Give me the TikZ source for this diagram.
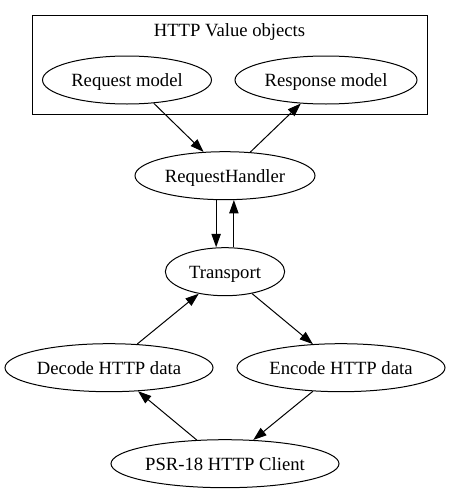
\documentclass[tikz,border=0pt]{standalone}
\usepackage{fontspec}
\setmainfont{Liberation Serif}
\usetikzlibrary{shapes.geometric,arrows.meta}
\begin{document}
\begin{tikzpicture}[x=0.75pt,y=-0.75pt,
  gn/.style={draw,ellipse,line width=0.75pt,minimum height=36pt,inner xsep=-4pt,inner ysep=0pt,
    text height=10pt,text depth=0pt,font=\fontsize{14pt}{16pt}\selectfont},
  cluster/.style={draw,rectangle,line width=0.75pt,inner sep=0pt},
  title/.style={anchor=base,inner sep=0pt,font=\fontsize{14pt}{16pt}\selectfont},
  edge/.style={draw,line width=0.75pt,-{Triangle[length=10pt,width=7pt]}}]
\useasboundingbox (0,0) rectangle (450,493);
\node[cluster,minimum width=296.25pt,minimum height=74.25pt] (cl) at (229.5,64.5) {};
\node[title] (cltitle) at (229.5,36.7) {HTTP Value objects};
\node[gn,minimum width=126.75pt] (rm) at (127,80) {Request model};
\node[gn,minimum width=136.5pt] (rsp) at (326,80) {Response model};
\node[gn,minimum width=135pt] (rh) at (225,175.7) {RequestHandler};
\node[gn,minimum width=89.5pt] (tr) at (225,271.7) {Transport};
\node[gn,minimum width=156pt] (dec) at (109,367.7) {Decode HTTP data};
\node[gn,minimum width=156pt] (enc) at (341,367.7) {Encode HTTP data};
\node[gn,minimum width=171pt] (psr) at (225,463.7) {PSR-18 HTTP Client};
\draw[edge] (rm.-41.5) -- (rh.132.9);
\draw[edge] (rh.43.5) -- (rsp.-137.4);
\draw[edge] (rh.-110) -- (rh.-110 |- tr.north);
\draw[edge] (tr.north -| rh.-70) -- (rh.-70);
\draw[edge] (tr.-39.5) -- (enc.140);
\draw[edge] (dec.40) -- (tr.-140.5);
\draw[edge] (enc.-140.5) -- (psr.40);
\draw[edge] (psr.140) -- (dec.-39.5);
\end{tikzpicture}
\end{document}
